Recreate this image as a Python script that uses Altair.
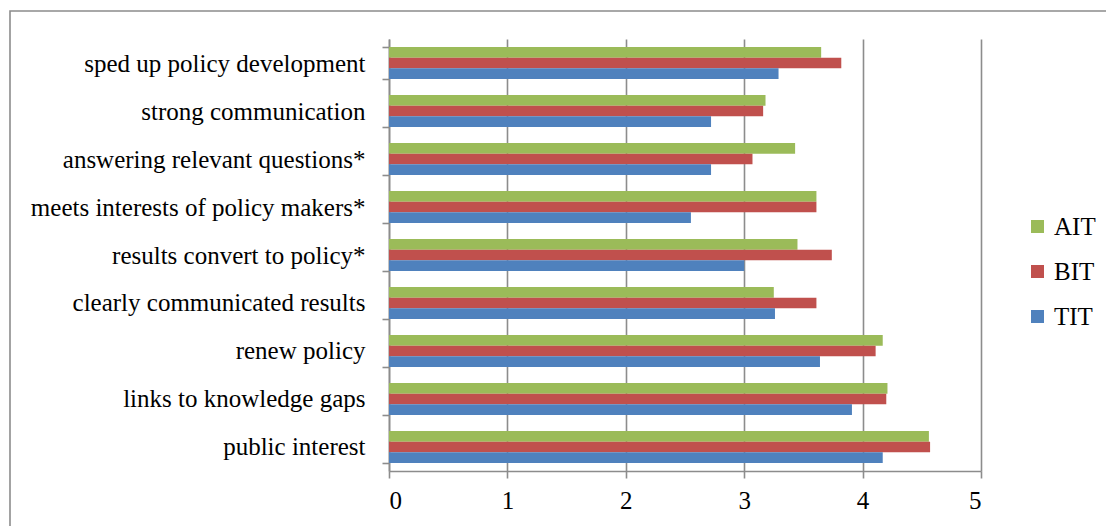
import altair as alt
import pandas as pd

# Survey items (top to bottom) and mean scores per group
categories = [
    "sped up policy development",
    "strong communication",
    "answering relevant questions*",
    "meets interests of policy makers*",
    "results convert to policy*",
    "clearly communicated results",
    "renew policy",
    "links to knowledge gaps",
    "public interest",
]
ait = [3.65, 3.18, 3.43, 3.61, 3.45, 3.25, 4.17, 4.21, 4.56]
bit = [3.82, 3.16, 3.07, 3.61, 3.74, 3.61, 4.11, 4.20, 4.57]
tit = [3.29, 2.72, 2.72, 2.55, 3.00, 3.26, 3.64, 3.91, 4.17]

series_names = ["AIT", "BIT", "TIT"]
series_colors = ["#9BBB59", "#C0504D", "#4F81BD"]

rows = []
for name, vals in zip(series_names, [ait, bit, tit]):
    for cat, v in zip(categories, vals):
        rows.append({"item": cat, "group": name, "score": v})
df = pd.DataFrame(rows)

FONT = "Times New Roman, Tinos, Liberation Serif, Noto Serif, DejaVu Serif, serif"
GRAY = "#8c8c8c"

bars = alt.Chart(df).mark_bar().encode(
    x=alt.X(
        "score:Q",
        scale=alt.Scale(domain=[0, 5], nice=False),
        axis=alt.Axis(
            title=None,
            values=[0, 1, 2, 3, 4, 5],
            format="d",
            grid=True,
            gridColor=GRAY,
            gridWidth=1.6,
            domainColor=GRAY,
            domainWidth=1.6,
            tickColor=GRAY,
            tickWidth=1.6,
            tickSize=7,
            labelPadding=10,
            labelFont=FONT,
            labelFontSize=25,
            labelColor="black",
        ),
    ),
    y=alt.Y(
        "item:N",
        sort=categories,
        scale=alt.Scale(paddingInner=0.333, paddingOuter=0.1667),
        axis=alt.Axis(
            title=None,
            grid=False,
            tickBand="extent",
            domainColor=GRAY,
            domainWidth=1.6,
            tickColor=GRAY,
            tickWidth=1.6,
            tickSize=7,
            labelPadding=17,
            labelFont=FONT,
            labelFontSize=25,
            labelColor="black",
            labelLimit=400,
        ),
    ),
    yOffset=alt.YOffset(
        "group:N",
        sort=series_names,
        scale=alt.Scale(paddingInner=0, paddingOuter=0),
    ),
    color=alt.Color(
        "group:N",
        scale=alt.Scale(domain=series_names, range=series_colors),
        legend=alt.Legend(
            title=None,
            orient="none",
            legendX=636,
            legendY=175,
            symbolType="square",
            symbolSize=169,
            symbolStrokeWidth=0,
            labelFont=FONT,
            labelFontSize=25,
            labelColor="black",
            labelOffset=4,
            rowPadding=19,
        ),
    ),
)

# Outer frame of the chart panel
frame = alt.Chart(alt.Data(values=[{}])).mark_rect(
    fill=None, stroke=GRAY, strokeWidth=1.6
).encode(
    x=alt.value(-379),
    x2=alt.value(730),
    y=alt.value(-28),
    y2=alt.value(500),
)

chart = alt.layer(frame, bars).properties(
    width=592,
    height=432,
    padding={"left": 389, "top": 39, "right": 125, "bottom": 55},
    autosize=alt.AutoSizeParams(type="none"),
    background="white",
).configure_view(
    stroke=None
)

chart.save("out.html", embed_options={"renderer": "svg", "actions": False})
